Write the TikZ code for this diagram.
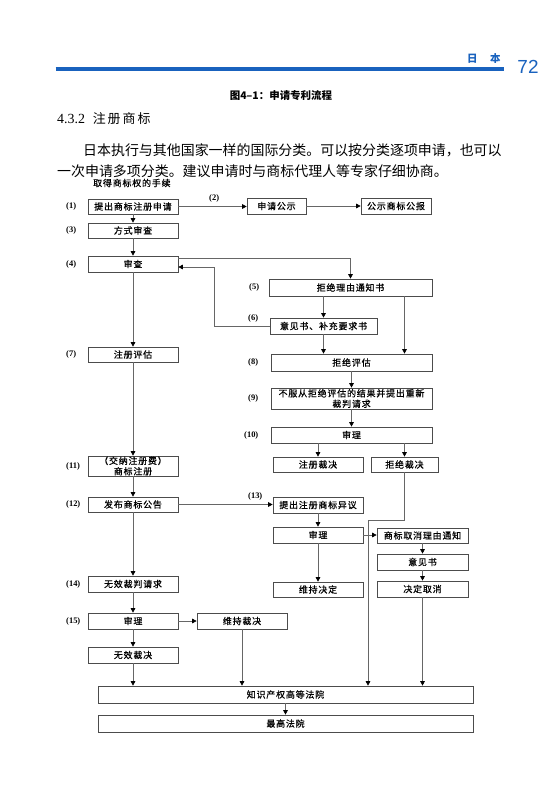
\documentclass[tikz,border=0pt]{standalone}
\usepackage{fontspec}
\setmainfont{Liberation Serif}
\newfontfamily\cjk{Noto Sans CJK SC}
\newfontfamily\cjkbox[FakeBold=0.6,LetterSpace=9]{Noto Sans CJK SC}
\newfontfamily\hdfont{Liberation Sans}
\usetikzlibrary{arrows.meta,shadows}
\definecolor{hdblue}{RGB}{25,98,190}
\begin{document}
\begin{tikzpicture}[x=1bp,y=-1bp,
  box/.style={draw=black!70, line width=0.65bp, fill=white, inner sep=0pt,
    minimum width=90bp, minimum height=16bp, align=center,
    font=\cjkbox\fontsize{9}{10.5}\selectfont,
    drop shadow={shadow xshift=0.8bp,shadow yshift=-0.8bp,opacity=0.55}},
  lbl/.style={font=\bfseries\fontsize{8.5}{9}\selectfont, inner sep=0pt, anchor=west},
  conn/.style={draw=black!60, line width=0.6bp, -{Triangle[length=4.5bp,width=4.5bp,color=black]}},
  txt/.style={inner sep=0pt, anchor=west}]
\useasboundingbox[fill=white] (0,0) rectangle (559,793);

% header
\draw[hdblue, line width=3.5bp] (55.5,69) -- (504,69);
\node[txt, text=hdblue, font=\cjk\bfseries\fontsize{10.5}{11}\selectfont] (hdjp) at (467,59) {日\hspace{1.2em}本};
\node[inner sep=0pt, text=hdblue, font=\hdfont\fontsize{19}{20}\selectfont] (hdnum) at (528,67) {72};
\node[inner sep=0pt, font=\cjk\bfseries\fontsize{10.5}{11}\selectfont] (title) at (281,96) {图4–1：申请专利流程};
\node[txt, font=\fontsize{14}{15}\selectfont] (sec) at (57,119) {4.3.2\hspace{0.55em}{\cjk\fontsize{13}{14}\selectfont 注\kern2bp 册\kern2bp 商\kern2bp 标}};
\node[txt, font=\cjk\fontsize{14}{15}\selectfont] (par1) at (83,150) {日本执行与其他国家一样的国际分类。可以按分类逐项申请，也可以};
\node[txt, font=\cjk\fontsize{14}{15}\selectfont] (par2) at (57,171) {一次申请多项分类。建议申请时与商标代理人等专家仔细协商。};
\node[txt, font=\cjkbox\fontsize{9}{10}\selectfont] (cap) at (93,183) {取得商标权的手续};

% boxes
\node[box, minimum height=15bp] (b1) at (133,206.5) {提出商标注册申请};
\node[box, minimum width=59bp] (b2) at (276.5,206) {申请公示};
\node[box, minimum width=70bp] (b2b) at (396,206) {公示商标公报};
\node[box, minimum height=15bp] (b3) at (133,230.5) {方式审查};
\node[box] (b4) at (133,264) {审查};
\node[box, minimum width=163bp, minimum height=17bp] (b5) at (350.5,287.5) {拒绝理由通知书};
\node[box, minimum width=107bp] (b6) at (323.5,326) {意见书、补充要求书};
\node[box, minimum height=15bp] (b7) at (133,354.5) {注册评估};
\node[box, minimum width=161bp, minimum height=17bp] (b8) at (351.5,362.5) {拒绝评估};
\node[box, minimum width=161bp, minimum height=21bp] (b9) at (351.5,398.5) {不服从拒绝评估的结果并提出重新\\裁判请求};
\node[box, minimum width=161bp] (b10) at (351.5,435) {审理};
\node[box, minimum height=15bp] (b10a) at (318,464.5) {注册裁决};
\node[box, minimum width=67bp, minimum height=15bp] (b10b) at (404.5,464.5) {拒绝裁决};
\node[box, minimum height=20bp] (b11) at (133,466) {（交纳注册费）\\商标注册};
\node[box, minimum height=15bp] (b12) at (133,504.5) {发布商标公告};
\node[box] (b13) at (318,505) {提出注册商标异议};
\node[box] (b13a) at (318,535) {审理};
\node[box, minimum width=91bp, minimum height=15bp] (b13b) at (422.5,535.5) {商标取消理由通知};
\node[box, minimum width=91bp] (b13c) at (422.5,562) {意见书};
\node[box, minimum width=91bp] (b13d) at (422.5,589) {决定取消};
\node[box, minimum height=15bp] (b13e) at (318,589.5) {维持决定};
\node[box] (b14) at (133,584) {无效裁判请求};
\node[box] (b15) at (133,621) {审理};
\node[box] (b15a) at (242,621) {维持裁决};
\node[box] (b15b) at (133,655) {无效裁决};
\node[box, minimum width=375bp, minimum height=17bp] (court) at (285.5,694.5) {知识产权高等法院};
\node[box, minimum width=375bp, minimum height=17bp] (supreme) at (285.5,723.5) {最高法院};

% labels
\node[lbl] (l1) at (66,206.5) {(1)};
\node[lbl] (l2) at (209,198) {(2)};
\node[lbl] (l3) at (66,230.5) {(3)};
\node[lbl] (l4) at (66,264) {(4)};
\node[lbl] (l5) at (249,287) {(5)};
\node[lbl] (l6) at (248,318) {(6)};
\node[lbl] (l7) at (66,354.5) {(7)};
\node[lbl] (l8) at (248,362) {(8)};
\node[lbl] (l9) at (248,398) {(9)};
\node[lbl] (l10) at (244,435) {(10)};
\node[lbl] (l11) at (66,466) {(11)};
\node[lbl] (l12) at (66,504) {(12)};
\node[lbl] (l13) at (248,496) {(13)};
\node[lbl] (l14) at (66,584) {(14)};
\node[lbl] (l15) at (66,621) {(15)};

% helper coordinates
\coordinate (ret) at (214,267);
\coordinate (bend) at (368,520);

% connectors
\draw[conn] (b1.east) -- (b1.east -| b2.west);
\draw[conn] (b2.east) -- (b2.east -| b2b.west);
\draw[conn] (b1) -- (b3);
\draw[conn] (b3) -- (b4);
\draw[conn] ([yshift=6bp]b4.east) -| (b5.north);
\draw[conn] (b6.west) -| (ret) -- (ret -| b4.east);
\draw[conn] (b6.north |- b5.south) -- (b6.north);
\draw[conn] (b10b.north |- b5.south) -- (b10b.north |- b8.north);
\draw[conn] (b6.south) -- (b6.south |- b8.north);
\draw[conn] (b8) -- (b9);
\draw[conn] (b9) -- (b10);
\draw[conn] (b10a.north |- b10.south) -- (b10a.north);
\draw[conn] (b10b.north |- b10.south) -- (b10b.north);
\draw[conn] (b4) -- (b7);
\draw[conn] (b7) -- (b11);
\draw[conn] (b11) -- (b12);
\draw[conn] (b12.east) -- (b12.east -| b13.west);
\draw[conn] (b13) -- (b13a);
\draw[conn] (b13a) -- (b13e);
\draw[conn] (b13a.east) -- (b13a.east -| b13b.west);
\draw[conn] (b13b) -- (b13c);
\draw[conn] (b13c) -- (b13d);
\draw[conn] (b13d.south) -- (b13d.south |- court.north);
\draw[conn] (b10b.south) |- (bend) -- (bend |- court.north);
\draw[conn] (b12) -- (b14);
\draw[conn] (b14) -- (b15);
\draw[conn] (b15.east) -- (b15.east -| b15a.west);
\draw[conn] (b15) -- (b15b);
\draw[conn] (b15b.south) -- (b15b.south |- court.north);
\draw[conn] (b15a.south) -- (b15a.south |- court.north);
\draw[conn] (court) -- (supreme);
\end{tikzpicture}
\end{document}
